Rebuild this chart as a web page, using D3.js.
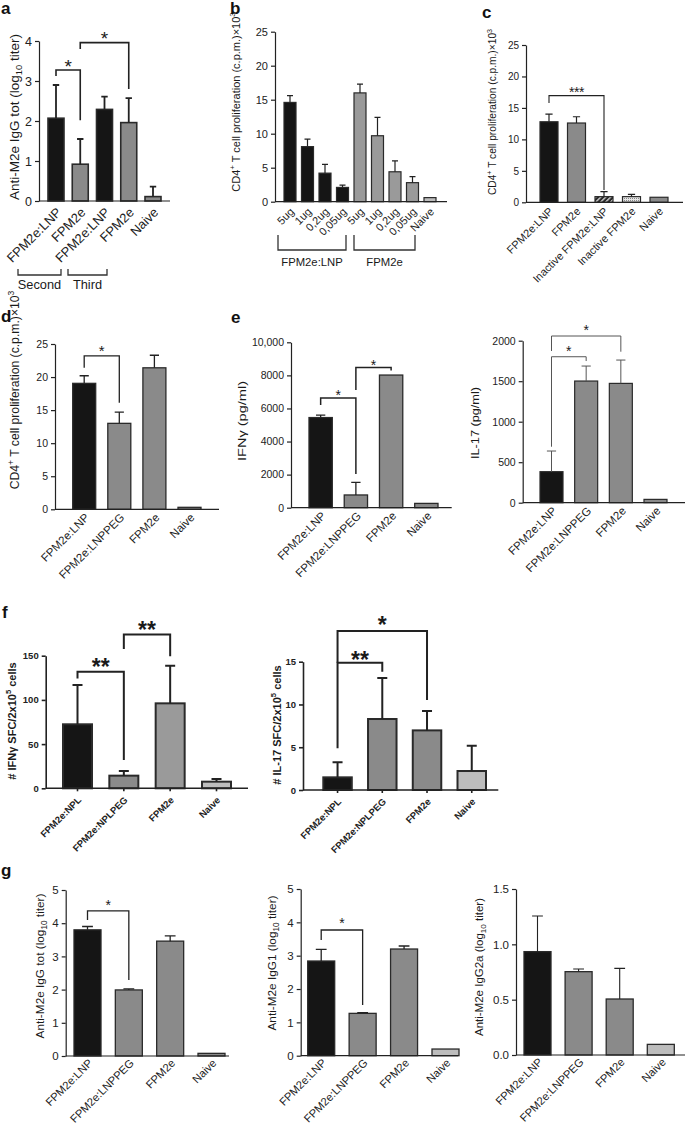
<!DOCTYPE html>
<html>
<head>
<meta charset="utf-8">
<script src="https://cdn.jsdelivr.net/npm/d3@7"></script>
<style>
  body { margin: 0; background: #fff; }
  svg { display: block; font-family: "Liberation Sans", Arial, sans-serif; }
</style>
</head>
<body>
<svg id="fig" width="685" height="1128"></svg>
<script>
// ---- data (mean, SEM) ----
const catA = ['FPM2e:LNP', 'FPM2e', 'FPM2e:LNP', 'FPM2e', 'Naive'];
const valA = [2.07, 0.92, 2.29, 1.96, 0.11];
const semA = [0.83, 0.63, 0.32, 0.61, 0.25];
const ticksA = [0, 1, 2, 3, 4];

const catB = ['5ug', '1ug', '0,2ug', '0,05ug', '5ug', '1ug', '0,2ug', '0,05ug', 'Naive'];
const valB = [14.6, 8.1, 4.2, 2.1, 16.0, 9.7, 4.4, 2.8, 0.6];
const semB = [1.0, 1.1, 1.3, 0.35, 1.3, 2.7, 1.6, 0.9, 0];

const catC = ['FPM2e:LNP', 'FPM2e', 'Inactive FPM2e:LNP', 'Inactive FPM2e', 'Naive'];
const valC = [12.8, 12.6, 0.9, 0.9, 0.8];
const semC = [1.2, 1.0, 0.8, 0.35, 0];

const ticksCpm = [0, 5, 10, 15, 20, 25];

const catD = ['FPM2e:LNP', 'FPM2e:LNPPEG', 'FPM2e', 'Naive'];
const valD = [19.05, 13.0, 21.4, 0.3];
const semD = [1.15, 1.7, 1.9, 0];

const valIfn = [5450, 770, 8020, 260];
const semIfn = [150, 760, 0, 0];
const ticksIfn = [0, 2000, 4000, 6000, 8000, 10000];
const tickLabIfn = ['0', '2000', '4000', '6000', '8000', '10,000'];

const valIl17 = [383, 1502, 1473, 41];
const semIl17 = [255, 185, 288, 0];
const ticksIl17 = [0, 500, 1000, 1500, 2000];

const catF = ['FPM2e:NPL', 'FPM2e:NPLPEG', 'FPM2e', 'Naive'];
const valSfcIfn = [72.4, 14.3, 96.1, 7.5];
const semSfcIfn = [44.5, 5.3, 42.6, 3.1];
const ticksSfcIfn = [0, 50, 100, 150];
const valSfcIl17 = [1.48, 8.3, 6.97, 2.22];
const semSfcIl17 = [1.75, 4.8, 2.26, 2.96];
const ticksSfcIl17 = [0, 5, 10, 15];

const valIgG = [3.80, 1.99, 3.46, 0.08];
const semIgG = [0.10, 0.03, 0.16, 0];
const valIgG1 = [2.84, 1.27, 3.20, 0.20];
const semIgG1 = [0.35, 0.02, 0.09, 0];
const ticksTiter = [0, 1, 2, 3, 4, 5];
const valIgG2a = [0.934, 0.753, 0.506, 0.096];
const semIgG2a = [0.322, 0.024, 0.277, 0];
const ticksIgG2a = [0, 0.5, 1, 1.5];
const tickLabIgG2a = ['0.0', '0.5', '1.0', '1.5'];

// ---- drawing ----
const svg = d3.select('#fig');
const K = '#151515', G = '#8a8a8a', GL = '#9a9a9a', LG = '#bdbdbd';

const defs = svg.append('defs');
const hatch = defs.append('pattern').attr('id', 'hatch').attr('patternUnits', 'userSpaceOnUse')
  .attr('width', 3.5).attr('height', 3.5).attr('patternTransform', 'rotate(45)');
hatch.append('rect').attr('width', 3.5).attr('height', 3.5).attr('fill', '#2a2a2a');
hatch.append('rect').attr('width', 1.2).attr('height', 3.5).attr('fill', '#e8e8e8');
const dots = defs.append('pattern').attr('id', 'dots').attr('patternUnits', 'userSpaceOnUse')
  .attr('width', 2).attr('height', 2);
dots.append('rect').attr('width', 2).attr('height', 2).attr('fill', '#e6e6e6');
dots.append('rect').attr('width', 1).attr('height', 1).attr('fill', '#888');

function rich(sel, parts, size) {
  let off = 0;
  parts.forEach(([t, k]) => {
    const ts = sel.append('tspan').text(t);
    let want = 0;
    if (k === 'sup') { want = -size * 0.42; ts.attr('font-size', size * 0.7); }
    if (k === 'sub') { want = size * 0.25; ts.attr('font-size', size * 0.7); }
    if (want !== off) ts.attr('dy', want - off);
    off = want;
  });
}

function panel(p) {
  const g = svg.append('g').attr('font-weight', p.bold ? 'bold' : null).attr('fill', '#1a1a1a');
  const y = d3.scaleLinear().domain([p.ticks[0], p.ticks[p.ticks.length - 1]]).range([p.yBot, p.yTop]);
  const n = p.cats.length;
  const S = p.R - p.L;
  const pad = (S - p.bw * n) / (S - p.bw);
  const x = d3.scaleBand().domain(d3.range(n)).range([p.L, p.R]).paddingInner(pad).paddingOuter(0);
  const cx = (i) => x(i) + x.bandwidth() / 2;
  const ink = p.ink || '#222';

  // bars
  g.append('g').selectAll('rect').data(p.vals).join('rect')
    .attr('x', (d, i) => x(i)).attr('width', x.bandwidth())
    .attr('y', (d) => y(d)).attr('height', (d) => y(0) - y(d))
    .attr('fill', (d, i) => p.fills[i])
    .attr('stroke', '#2a2a2a').attr('stroke-width', p.sw);

  // error bars (upper only)
  const cap = p.cap || x.bandwidth() * 0.4;
  const eb = g.append('g').attr('stroke', ink).attr('stroke-width', p.esw || p.sw).attr('fill', 'none');
  p.vals.forEach((v, i) => {
    const e = p.errs[i];
    if (!e) return;
    eb.append('path').attr('d', `M${cx(i)},${y(v)}V${y(v + e)}M${cx(i) - cap / 2},${y(v + e)}H${cx(i) + cap / 2}`);
  });

  // y axis
  const ya = d3.axisLeft(y).tickValues(p.ticks).tickSize(4).tickSizeOuter(0).tickPadding(3)
    .tickFormat((d, i) => (p.tickLabels ? p.tickLabels[i] : d));
  const yg = g.append('g').attr('transform', `translate(${p.ax},0)`).call(ya);
  yg.attr('font-size', p.tfs).attr('font-family', null).style('color', '#222');
  yg.selectAll('path, line').attr('stroke-width', p.asw || 1.2);

  // x axis line
  g.append('line').attr('x1', p.ax).attr('x2', p.x1).attr('y1', y(0)).attr('y2', y(0))
    .attr('stroke', '#222').attr('stroke-width', p.asw || 1.2);

  // category labels
  const xa = d3.axisBottom(x).tickSize(p.xtick || 0).tickSizeOuter(0).tickFormat((i) => p.cats[i]);
  const xg = g.append('g').attr('transform', `translate(0,${y(0)})`).call(xa);
  xg.select('.domain').remove();
  xg.attr('font-size', p.cfs).attr('font-family', null).style('color', '#222');
  xg.selectAll('line').attr('stroke-width', p.asw || 1.2);
  xg.selectAll('text').attr('x', 0).attr('y', 0).attr('dy', '0.35em')
    .attr('text-anchor', 'end')
    .attr('transform', `translate(${p.lx},${p.ly}) rotate(-45)`);

  // significance brackets
  (p.sig || []).forEach((b) => {
    const x1 = cx(b[0]);
    const x2 = cx(b[1]);
    const top = y(b[3]);
    g.append('path').attr('d', `M${x1},${y(b[4])}V${top}H${x2}V${y(b[5])}`)
      .attr('fill', 'none').attr('stroke', p.bcol || ink).attr('stroke-width', p.bsw || p.sw);
    g.append('text').attr('x', (x1 + x2) / 2).attr('y', top - (b[6] || p.starUp) + 0.57 * p.sfs)
      .attr('text-anchor', 'middle').attr('font-size', p.sfs)
      .attr('letter-spacing', p.sls || 0).text(b[2]);
  });

  // group brackets under labels
  (p.groups || []).forEach((gr) => {
    g.append('path').attr('d', `M${gr.a},${gr.y0}V${gr.y1}H${gr.b}V${gr.y0}`)
      .attr('fill', 'none').attr('stroke', '#333').attr('stroke-width', 1.3);
    g.append('text').attr('x', (gr.a + gr.b) / 2).attr('y', gr.ty).attr('text-anchor', 'middle')
      .attr('font-size', p.gfs).text(gr.t);
  });

  // y label
  const yl = g.append('text').attr('text-anchor', 'middle').attr('font-size', p.yfs)
    .attr('transform', `translate(${p.ylx},${p.yly}) rotate(-90)`);
  rich(yl, p.ylab, p.yfs);
  if (p.ylen) yl.attr('textLength', p.ylen).attr('lengthAdjust', 'spacingAndGlyphs');

  if (p.letter) {
    svg.append('text').attr('x', p.letter[1]).attr('y', p.letter[2]).attr('font-size', 17)
      .attr('font-weight', 'bold').attr('fill', '#111').text(p.letter[0]);
  }
}

const labTiter = (iso) => [[`Anti-M2e ${iso} (log`], ['10', 'sub'], [' titer)']];
const labCpm = [['CD4'], ['+', 'sup'], [' T cell proliferation (c.p.m.)×10'], ['3', 'sup']];

// a
panel({
  cats: catA, vals: valA, errs: semA, ticks: ticksA, fills: [K, G, K, G, G],
  ax: 39, x1: 170, yTop: 41, yBot: 201, L: 48, R: 161, bw: 16, sw: 1.6, esw: 1.8,
  tfs: 12.5, cfs: 13, lx: 3, ly: 9, yfs: 13.5, ylx: 19, yly: 117, ylab: labTiter('IgG tot'),
  sig: [[0, 1, '*', 3.275, 3.125, 2.02], [1, 3, '*', 3.96, 3.8, 2.8]],
  sfs: 19, starUp: 8,
  groups: [{ a: 18, b: 61, y0: 269, y1: 275, ty: 289, t: 'Second' },
    { a: 68, b: 107, y0: 269, y1: 275, ty: 289, t: 'Third' }],
  gfs: 12.8, letter: ['a', 1, 14],
});

// b
panel({
  cats: catB, vals: valB, errs: semB, ticks: ticksCpm, fills: [K, K, K, K, GL, GL, GL, GL, LG],
  ax: 275, x1: 447, yTop: 31.7, yBot: 201.7, L: 284, R: 436, bw: 12, sw: 1.2, cap: 6,
  tfs: 11, cfs: 11, lx: 2, ly: 8, yfs: 11, ylx: 240, yly: 102, ylab: labCpm,
  groups: [{ a: 278, b: 346, y0: 235, y1: 250, ty: 266, t: 'FPM2e:LNP' },
    { a: 354, b: 415, y0: 235, y1: 250, ty: 266, t: 'FPM2e' }],
  gfs: 11.3, letter: ['b', 230, 14],
});

// c
panel({
  cats: catC, vals: valC, errs: semC, ticks: ticksCpm, fills: [K, G, 'url(#hatch)', 'url(#dots)', G],
  ax: 526, x1: 683, yTop: 45, yBot: 202.3, L: 540, R: 668, bw: 18, sw: 1.2,
  tfs: 10, cfs: 11, lx: 2, ly: 7, yfs: 10.2, ylx: 496, yly: 112, ylab: labCpm,
  sig: [[0, 2, '***', 16.95, 15.8, 1.95]], sfs: 14, starUp: 6.5, sls: -0.5, bsw: 1.1,
  letter: ['c', 482, 18],
});

// d
panel({
  cats: catD, vals: valD, errs: semD, ticks: ticksCpm, fills: [K, G, G, G],
  ax: 55, x1: 219, yTop: 344, yBot: 509.3, L: 72.7, R: 201, bw: 23, sw: 1.3,
  tfs: 10.5, cfs: 11.5, lx: 3, ly: 6, yfs: 12.2, ylx: 19, yly: 390, ylab: labCpm,
  sig: [[0, 1, '*', 23.2, 21.4, 16.1]], sfs: 15, starUp: 8,
  letter: ['d', 1, 322],
});

// e (IFNγ)
panel({
  cats: catD, vals: valIfn, errs: semIfn, ticks: ticksIfn, tickLabels: tickLabIfn, fills: [K, G, G, G],
  ax: 291, x1: 451.7, yTop: 342.3, yBot: 507.7, L: 309, R: 438, bw: 23.3, sw: 1.3,
  tfs: 10.5, cfs: 11.5, lx: 3, ly: 6, yfs: 10, ylx: 246, yly: 421, ylen: 80, ylab: [['IFNγ (pg/ml)']],
  sig: [[0, 1, '*', 6636, 6213, 2036], [1, 2, '*', 8470, 7120, 8288]], sfs: 14, starUp: 5.5, bsw: 1.5,
  letter: ['e', 231, 323],
});

// e (IL-17)
panel({
  cats: catD, vals: valIl17, errs: semIl17, ticks: ticksIl17, fills: [K, G, G, G],
  ax: 522.7, x1: 685, yTop: 340.7, yBot: 502.7, L: 540, R: 667, bw: 23, sw: 1.2, esw: 1,
  ink: '#555', tfs: 10.5, cfs: 11.5, lx: 3, ly: 6, yfs: 10, ylx: 479, yly: 423, ylen: 72, ylab: [['IL-17 (pg/ml)']],
  sig: [[0, 1, '*', 1802, 691, 1749], [0, 2, '*', 2058, 1873, 1864]], sfs: 14, starUp: 8.5, bsw: 1,
});

// f (ELISPOT)
panel({
  cats: catF, vals: valSfcIfn, errs: semSfcIfn, ticks: ticksSfcIfn, fills: [K, G, GL, LG], bold: true,
  ax: 45.7, x1: 248, yTop: 655.7, yBot: 788.3, L: 63, R: 231, bw: 29, sw: 2, cap: 10, asw: 1.6, xtick: 3,
  tfs: 9.5, cfs: 9.5, lx: 2, ly: 10, yfs: 11, ylx: 16, yly: 721,
  ylab: [['# IFNγ SFC/2x10'], ['5', 'sup'], [' cells']],
  sig: [[0, 1, '**', 131.8, 124.3, 32], [1, 2, '**', 174, 157.5, 149.5]], sfs: 23, starUp: 9.5, sls: 0,
  letter: ['f', 2, 618],
});
panel({
  cats: catF, vals: valSfcIl17, errs: semSfcIl17, ticks: ticksSfcIl17, fills: [K, G, G, LG], bold: true,
  ax: 303, x1: 498.3, yTop: 661.7, yBot: 790, L: 323.3, R: 486, bw: 28.5, sw: 2, cap: 10, asw: 1.6, xtick: 3,
  tfs: 9.5, cfs: 9.5, lx: 2, ly: 10, yfs: 11, ylx: 281, yly: 725,
  ylab: [['# IL-17 SFC/2x10'], ['5', 'sup'], [' cells']],
  sig: [[0, 1, '**', 14.88, 4.88, 13.83, 7.7], [0, 2, '*', 18.59, 14.88, 10.52, 11]], sfs: 23, starUp: 10, sls: 0,
});

// g (antibody isotypes)
panel({
  cats: catD, vals: valIgG, errs: semIgG, ticks: ticksTiter, fills: [K, G, G, G],
  ax: 65.7, x1: 229, yTop: 890, yBot: 1056, L: 74, R: 225, bw: 27, sw: 1.3,
  tfs: 11.5, cfs: 11.2, lx: 3, ly: 5, yfs: 11.8, ylx: 44, yly: 966, ylab: labTiter('IgG tot'),
  sig: [[0, 1, '*', 4.37, 4.1, 2.29]], sfs: 14, starUp: 9,
  letter: ['g', 1, 876],
});
panel({
  cats: catD, vals: valIgG1, errs: semIgG1, ticks: ticksTiter, fills: [K, G, G, LG],
  ax: 300.7, x1: 458, yTop: 889, yBot: 1055.7, L: 307.7, R: 459, bw: 27, sw: 1.3,
  tfs: 11.5, cfs: 11.2, lx: 3, ly: 5, yfs: 11.8, ylx: 276, yly: 963, ylab: labTiter('IgG1'),
  sig: [[0, 1, '*', 3.77, 3.47, 1.52]], sfs: 14, starUp: 10,
});
panel({
  cats: catD, vals: valIgG2a, errs: semIgG2a, ticks: ticksIgG2a, tickLabels: tickLabIgG2a, fills: [K, G, G, LG],
  ax: 516, x1: 685, yTop: 889, yBot: 1055, L: 524, R: 674.3, bw: 27, sw: 1.3, esw: 1.1,
  tfs: 11.5, cfs: 11.2, lx: 3, ly: 5, yfs: 11.5, ylx: 483, yly: 967, ylab: labTiter('IgG2a'),
});
</script>
</body>
</html>
